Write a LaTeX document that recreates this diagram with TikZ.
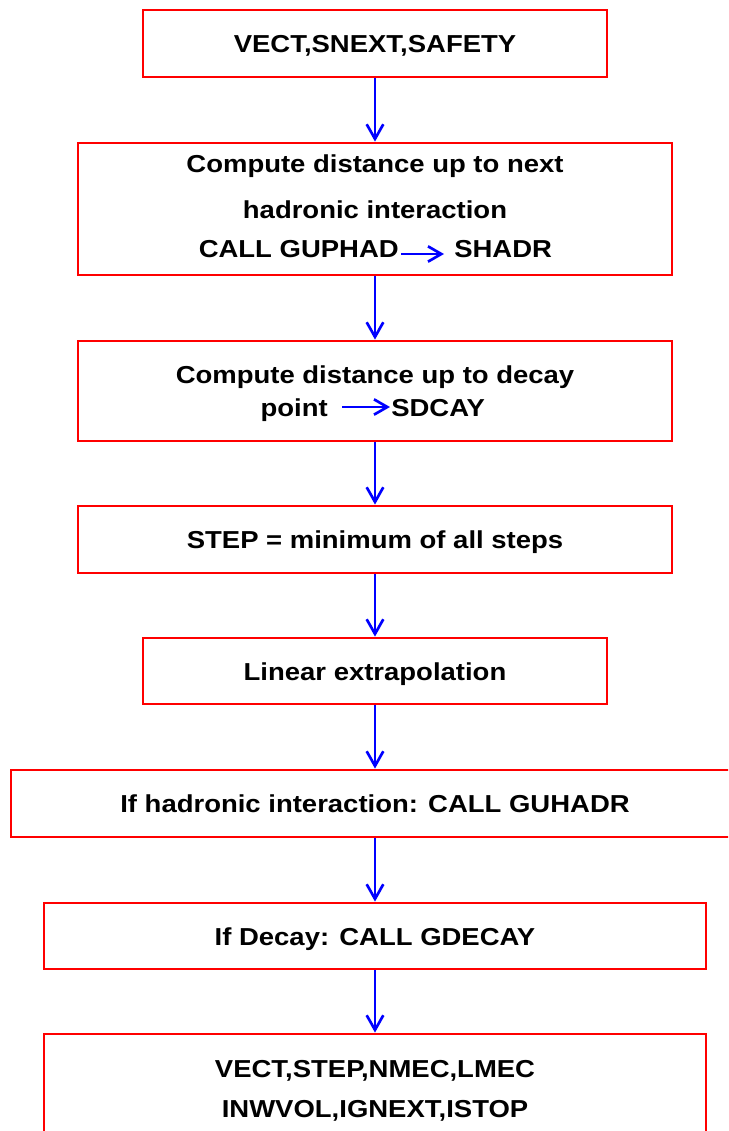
\documentclass[tikz,border=0pt]{standalone}
\usepackage{fontspec}
\setmainfont{Liberation Sans}[FakeStretch=1.12]
\usetikzlibrary{arrows.meta}
\tikzset{
  box/.style={draw=red, line width=2.1pt, inner sep=0pt, fill=none},
  txt/.style={inner sep=0pt, font=\fontsize{18.4}{22}\selectfont\bfseries, text=black},
  flow/.style={draw=blue, line width=2pt, -{Straight Barb[length=11pt,width=12.5pt,line width=2pt]}},
  inarrow/.style={draw=blue, line width=2pt, -{Straight Barb[length=10pt,width=11.5pt,line width=2pt]}}
}
\begin{document}
\begin{tikzpicture}[x=0.75pt,y=-0.75pt]
\clip (0,0) rectangle (728,1131);
\fill[white] (0,0) rectangle (728,1131);
% boxes
\node[box, minimum width=348pt, minimum height=50.25pt] (b1) at (375,43.5) {};
\node[box, minimum width=445.5pt, minimum height=99pt] (b2) at (375,209) {};
\node[box, minimum width=445.5pt, minimum height=75pt] (b3) at (375,391) {};
\node[box, minimum width=445.5pt, minimum height=50.25pt] (b4) at (375,539.5) {};
\node[box, minimum width=348pt, minimum height=49.5pt] (b5) at (375,671) {};
\node[box, minimum width=546pt, minimum height=50.25pt] (b6) at (375,803.5) {};
\node[box, minimum width=496.5pt, minimum height=49.5pt] (b7) at (375,936) {};
\node[box, minimum width=496.5pt, minimum height=94.5pt] (b8) at (375,1097) {};
% texts
\node[txt, anchor=base] (t1) at (375,53) {VECT,SNEXT,SAFETY};
\node[txt, anchor=base] (t2a) at (375,172) {Compute distance up to next};
\node[txt, anchor=base] (t2b) at (375,218) {hadronic interaction};
\node[txt, anchor=base east] (t2c) at (399,257) {CALL GUPHAD};
\node[txt, anchor=base west] (t2d) at (454,257) {SHADR};
\node[txt, anchor=base] (t3a) at (375,383) {Compute distance up to decay};
\node[txt, anchor=base east] (t3b) at (328,416) {point};
\node[txt, anchor=base west] (t3c) at (391,416) {SDCAY};
\node[txt, anchor=base] (t4) at (375,548.5) {STEP = minimum of all steps};
\node[txt, anchor=base] (t5) at (375,680) {Linear extrapolation};
\node[txt, anchor=base] (t6) at (375,812.5) {If hadronic interaction: CALL GUHADR};
\node[txt, anchor=base] (t7) at (375,945) {If Decay: CALL GDECAY};
\node[txt, anchor=base] (t8a) at (375,1077) {VECT,STEP,NMEC,LMEC};
\node[txt, anchor=base] (t8b) at (375,1117) {INWVOL,IGNEXT,ISTOP};
% inline arrows
\coordinate (a2s) at (401,254);
\coordinate (a2e) at (444,254);
\coordinate (a3s) at (342,407);
\coordinate (a3e) at (390,407);
\draw[inarrow] (a2s) -- (a2e);
\draw[inarrow] (a3s) -- (a3e);
% flow arrows
\draw[flow] (b1.south) -- (b2.north);
\draw[flow] (b2.south) -- (b3.north);
\draw[flow] (b3.south) -- (b4.north);
\draw[flow] (b4.south) -- (b5.north);
\draw[flow] (b5.south) -- (b6.north);
\draw[flow] (b6.south) -- (b7.north);
\draw[flow] (b7.south) -- (b8.north);
\end{tikzpicture}
\end{document}
